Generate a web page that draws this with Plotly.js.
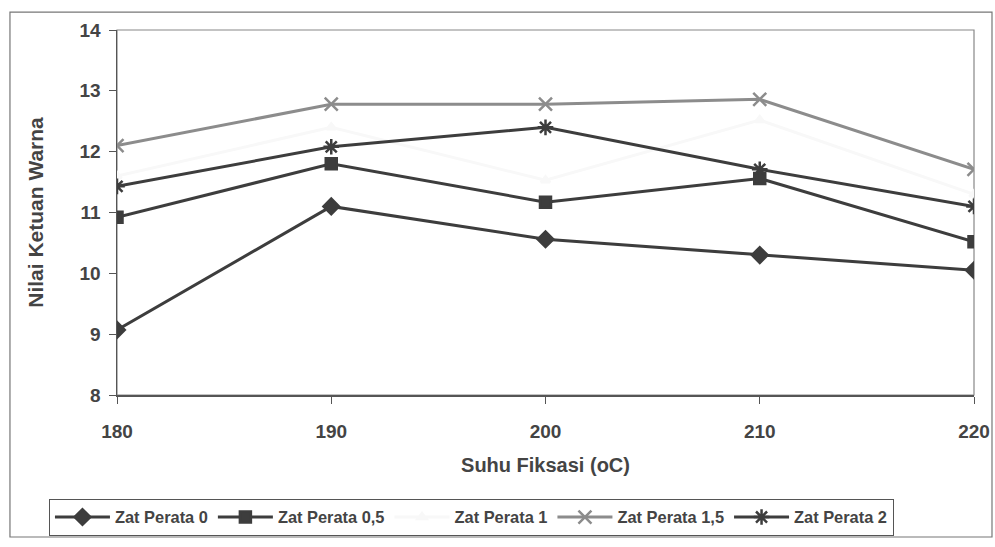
<!DOCTYPE html>
<html>
<head>
<meta charset="utf-8">
<script src="https://cdn.plot.ly/plotly-3.0.1.min.js"></script>
<style>html,body{margin:0;padding:0;background:#fff;}#chart{width:995px;height:547px;}</style>
</head>
<body>
<div id="chart"></div>
<script>
var suhu = [180, 190, 200, 210, 220];
var seriesNames = ["Zat Perata 0", "Zat Perata 0,5", "Zat Perata 1", "Zat Perata 1,5", "Zat Perata 2"];
var perata0 = [9.07, 11.1, 10.56, 10.3, 10.05];
var perata05 = [10.92, 11.8, 11.17, 11.56, 10.52];
var perata1 = [11.6, 12.4, 11.53, 12.52, 11.3];
var perata15 = [12.1, 12.78, 12.78, 12.86, 11.71];
var perata2 = [11.43, 12.08, 12.4, 11.71, 11.1];
var yTicks = [8, 9, 10, 11, 12, 13, 14];
var xTicks = [180, 190, 200, 210, 220];

var dark = "#3d3d3d";
var styles = [
  {color: dark, symbol: "diamond", size: 12},
  {color: dark, symbol: "square", size: 11},
  {color: "#f8f8f8", symbol: "triangle-up", size: 8},
  {color: "#8c8c8c", symbol: "x-thin-open", size: 13},
  {color: dark, symbol: "asterisk-open", size: 13}
];
var values = [perata0, perata05, perata1, perata15, perata2];
var traces = values.map(function (v, i) {
  var s = styles[i];
  return {
    x: suhu, y: v, name: seriesNames[i], type: "scatter", mode: "lines+markers",
    line: {color: s.color, width: 3},
    marker: {symbol: s.symbol, size: s.size, color: s.color, line: {color: s.color, width: 2.5}}
  };
});

var font = "Liberation Sans, Arial, sans-serif";
var layout = {
  width: 995, height: 547,
  margin: {l: 117, r: 21, t: 30, b: 152},
  paper_bgcolor: "#fff", plot_bgcolor: "#fff",
  showlegend: true,
  font: {family: font, color: "#444"},
  xaxis: {
    range: [180, 220], tickvals: xTicks, ticktext: xTicks.map(String), automargin: false,
    showgrid: false, zeroline: false, showline: true, linecolor: "#555", linewidth: 1.5,
    ticks: "outside", ticklen: 7, tickcolor: "#555", ticklabelstandoff: 12,
    tickfont: {family: font, size: 19, color: "#444", weight: "bold"},
    title: {text: "<b>Suhu Fiksasi (oC)</b>", font: {family: font, size: 20, color: "#444"}, standoff: 16}
  },
  yaxis: {
    range: [8, 14], tickvals: yTicks, automargin: false,
    showgrid: false, zeroline: false, showline: true, linecolor: "#555", linewidth: 1.5,
    ticks: "outside", ticklen: 7, tickcolor: "#555", ticklabelstandoff: 4,
    tickfont: {family: font, size: 19, color: "#444", weight: "bold"},
    title: {text: "<b>Nilai Ketuan Warna</b>", font: {family: font, size: 21, color: "#444"}, standoff: 30}
  },
  legend: {
    orientation: "h", xref: "container", yref: "container",
    x: 0.0492, xanchor: "left", y: 0.088, yanchor: "top",
    bordercolor: "#555", borderwidth: 1, bgcolor: "#fff",
    font: {family: font, size: 16.4, color: "#444", weight: "bold"},
    itemwidth: 55, tracegroupgap: 0
  },
  shapes: [
    {type: "rect", xref: "paper", yref: "paper", x0: 0, x1: 1, y0: 0, y1: 1,
     line: {color: "#888", width: 1.2}, layer: "below"},
    {type: "rect", xref: "paper", yref: "paper", x0: -0.1249, x1: 1.021, y0: -0.389, y1: 1.049,
     line: {color: "#777", width: 1.2}, layer: "below"}
  ]
};
Plotly.newPlot("chart", traces, layout, {displayModeBar: false, staticPlot: true});
</script>
</body>
</html>
